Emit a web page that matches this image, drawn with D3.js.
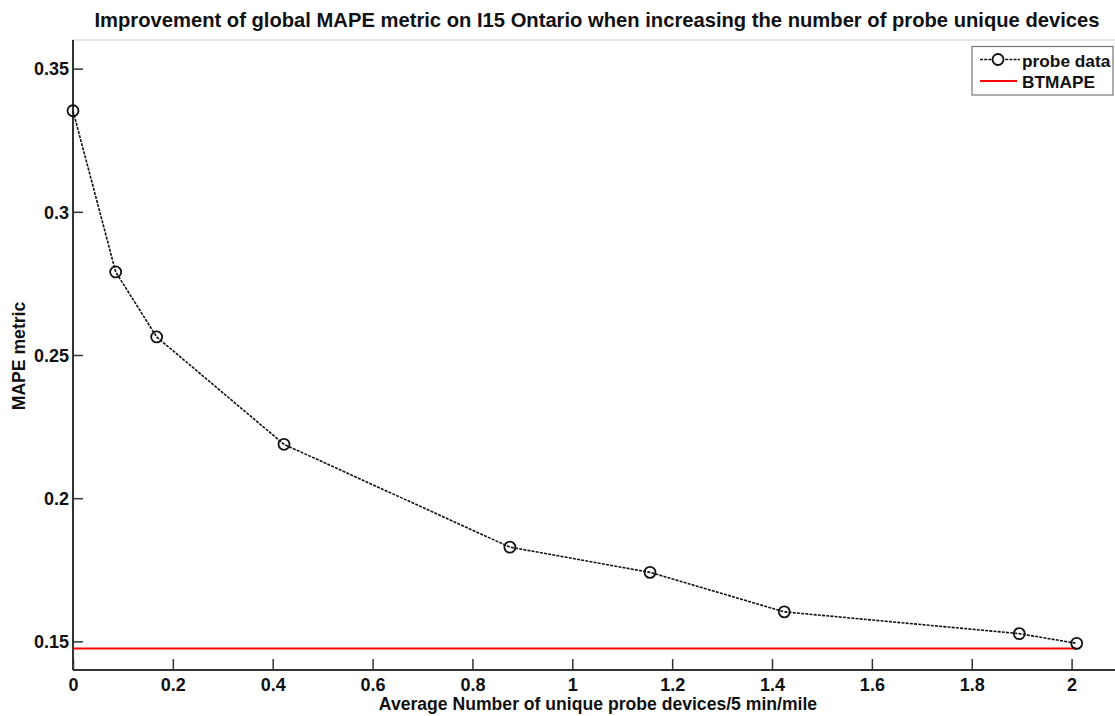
<!DOCTYPE html>
<html><head><meta charset="utf-8">
<script src="https://cdn.jsdelivr.net/npm/d3@7"></script>
<style>body{margin:0;background:#fff;} text{font-family:"Liberation Sans",Arial,sans-serif;font-weight:bold;fill:#111;}</style>
</head><body>
<svg id="c" width="1115" height="716"></svg>
<script>
const xValues = [0, 0.0855, 0.1676, 0.4226, 0.875, 1.1556, 1.4246, 1.8953, 2.0102];
const mapeValues = [0.3353, 0.2790, 0.2563, 0.2188, 0.1829, 0.1741, 0.1603, 0.1527, 0.1493];
const btmape = 0.1475;
const xTicks = [0, 0.2, 0.4, 0.6, 0.8, 1, 1.2, 1.4, 1.6, 1.8, 2];
const yTicks = [0.15, 0.2, 0.25, 0.3, 0.35];
const seriesNames = ["probe data", "BTMAPE"];

const svg = d3.select("#c");
const L = 73, T = 40, B = 670;
const x = d3.scaleLinear().domain([0, 2.1]).range([L, L + 2.1 * 499.3]);
const y = d3.scaleLinear().domain([0.14, 0.36]).range([B, T]);

// top border
svg.append("line").attr("x1", L).attr("x2", 1115).attr("y1", T).attr("y2", T).attr("stroke", "#ccc").attr("stroke-width", 1);

// axes
const xa = svg.append("g").attr("transform", `translate(0,${B})`)
  .call(d3.axisBottom(x).tickValues(xTicks).tickSize(-11).tickPadding(15).tickFormat(d3.format("~g")));
const ya = svg.append("g").attr("transform", `translate(${L},0)`)
  .call(d3.axisLeft(y).tickValues(yTicks).tickSize(-10).tickPadding(4).tickFormat(d3.format("~g")));
[xa, ya].forEach(a => {
  a.select(".domain").attr("stroke", "#333").attr("stroke-width", 2);
  a.selectAll(".tick line").attr("stroke", "#333").attr("stroke-width", 1.5);
  a.selectAll(".tick text").style("font-size", "18px").style("font-family", "Liberation Sans, Arial, sans-serif").style("font-weight", "bold").attr("fill", "#111");
});
ya.select(".domain").attr("d", `M0,${B}V${T}`);
xa.select(".domain").attr("d", `M${L},0H1115`);
ya.selectAll(".tick text").attr("dy", "0.35em");
xa.selectAll(".tick text").attr("y", 15).attr("dy", "0.35em");

// BTMAPE line
svg.append("line")
  .attr("x1", x(0)).attr("x2", x(xValues[xValues.length - 1]))
  .attr("y1", y(btmape)).attr("y2", y(btmape))
  .attr("stroke", "#f00").attr("stroke-width", 2);

// probe data
const data = xValues.map((v, i) => [v, mapeValues[i]]);
svg.append("path").datum(data)
  .attr("fill", "none").attr("stroke", "#111").attr("stroke-width", 1.6)
  .attr("stroke-dasharray", "3,1.2")
  .attr("d", d3.line().x(d => x(d[0])).y(d => y(d[1])));
svg.selectAll("circle.pt").data(data).enter().append("circle")
  .attr("class", "pt")
  .attr("cx", d => x(d[0])).attr("cy", d => y(d[1])).attr("r", 5.5)
  .attr("fill", "none").attr("stroke", "#111").attr("stroke-width", 1.8);

// title & labels
svg.append("text").attr("x", 597).attr("y", 27).attr("text-anchor", "middle")
  .style("font-size", "20.2px")
  .text("Improvement of global MAPE metric on I15 Ontario when increasing the number of probe unique devices");
svg.append("text").attr("x", 598).attr("y", 710).attr("text-anchor", "middle")
  .style("font-size", "17.6px").text("Average Number of unique probe devices/5 min/mile");
svg.append("text").attr("transform", "translate(25,356) rotate(-90)").attr("text-anchor", "middle")
  .style("font-size", "17.6px").text("MAPE metric");

// legend
const lg = svg.append("g");
lg.append("rect").attr("x", 972).attr("y", 46.5).attr("width", 141).attr("height", 48.5)
  .attr("fill", "#fff").attr("stroke", "#777").attr("stroke-width", 1.2);
lg.append("line").attr("x1", 980).attr("x2", 1020).attr("y1", 59.5).attr("y2", 59.5)
  .attr("stroke", "#111").attr("stroke-width", 1.6).attr("stroke-dasharray", "3,1.2");
lg.append("circle").attr("cx", 998).attr("cy", 59.5).attr("r", 5.5).attr("fill", "#fff").attr("stroke", "#111").attr("stroke-width", 1.8);
lg.append("line").attr("x1", 980).attr("x2", 1017).attr("y1", 81).attr("y2", 81)
  .attr("stroke", "#f00").attr("stroke-width", 2);
lg.selectAll("text.lt").data(seriesNames).enter().append("text")
  .attr("x", 1022).attr("y", (d, i) => 66.5 + i * 21.8)
  .style("font-size", "17.3px").text(d => d);
</script>
</body></html>
